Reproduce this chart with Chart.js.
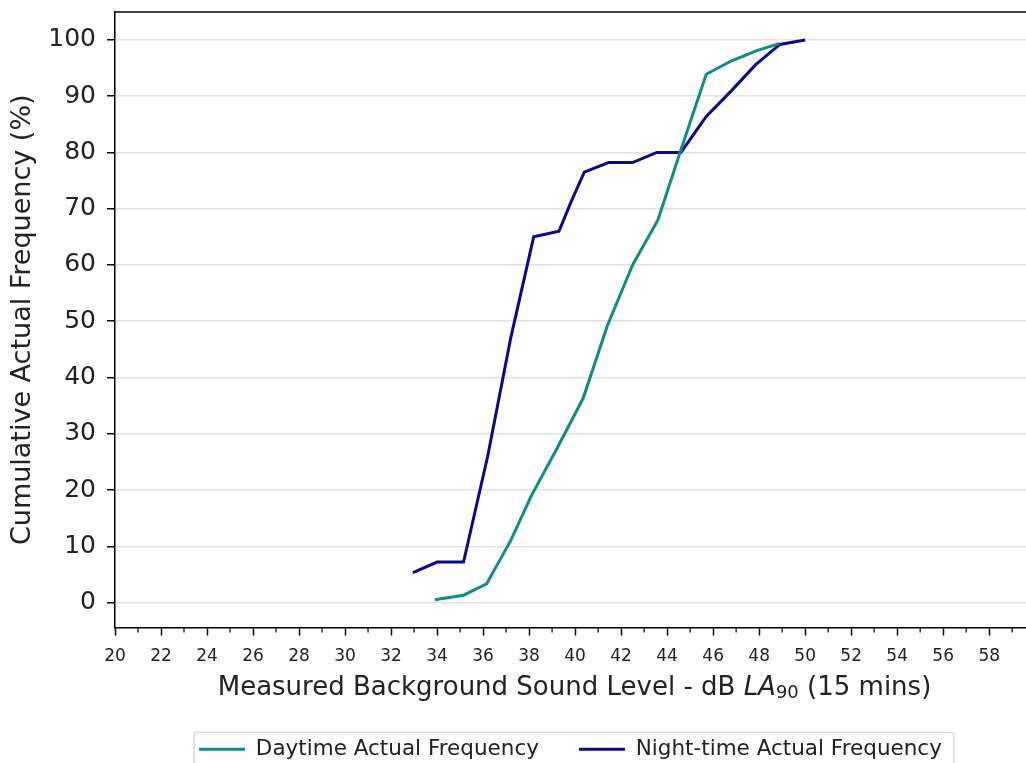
<!DOCTYPE html>
<html>
<head>
<meta charset="utf-8">
<script src="https://cdn.jsdelivr.net/npm/chart.js@4.4.1/dist/chart.umd.min.js"></script>
<style>
    html, body { margin: 0; padding: 0; background: #fff; }
    #wrap { width: 1026px; height: 763px; position: relative; overflow: hidden; }
</style>
</head>
<body>
<div id="wrap"><canvas id="chart"></canvas></div>
<script>
// Cumulative frequency readings (dB LA90, %)
const dayLevels = [33.9, 35.15, 36.15, 37.2, 38.1, 39.2, 40.35, 41.4, 42.5, 43.6, 44.6, 45.7, 46.8, 47.9, 48.9];
const dayCumulative = [0.5, 1.3, 3.3, 11, 19, 27.3, 36.3, 49.2, 60, 68, 80.5, 93.9, 96.3, 98.1, 99.4];
const nightLevels = [32.95, 34.0, 35.15, 36.2, 37.2, 38.2, 39.3, 39.8, 40.4, 41.45, 42.5, 43.55, 44.6, 45.7, 46.8, 47.85, 48.9, 50.0];
const nightCumulative = [5.3, 7.2, 7.2, 26, 47, 65, 66, 71, 76.5, 78.2, 78.2, 80, 80, 86.4, 91, 95.6, 99.2, 100];

const yTickValues = [0, 10, 20, 30, 40, 50, 60, 70, 80, 90, 100];
const xTickValues = [20, 22, 24, 26, 28, 30, 32, 34, 36, 38, 40, 42, 44, 46, 48, 50, 52, 54, 56, 58];
const seriesNames = ['Daytime Actual Frequency', 'Night-time Actual Frequency'];

const FONT = "'DejaVu Sans', sans-serif";

function toPoints(xs, ys) {
    return xs.map((x, i) => ({ x: x, y: ys[i] }));
}

// top spine, minor x ticks, x title with italic/subscript, legend frame
const decorations = {
    id: 'decorations',
    afterDraw(chart) {
        const ctx = chart.ctx;
        const area = chart.chartArea;
        const xScale = chart.scales.x;

        ctx.save();
        ctx.strokeStyle = '#000';
        ctx.lineWidth = 1.5;
        ctx.beginPath();
        ctx.moveTo(area.left, area.top);
        ctx.lineTo(area.right, area.top);
        ctx.stroke();

        ctx.lineWidth = 1.2;
        for (let v = 21; v < xScale.max; v += 2) {
            const px = xScale.getPixelForValue(v);
            ctx.beginPath();
            ctx.moveTo(px, area.bottom);
            ctx.lineTo(px, area.bottom + 5);
            ctx.stroke();
        }

        // x axis title
        const parts = [
            { text: 'Measured Background Sound Level - dB ', font: '26px ' + FONT, dy: 0 },
            { text: 'LA', font: 'italic 26px ' + FONT, dy: 0 },
            { text: '90', font: '18px ' + FONT, dy: 5 },
            { text: ' (15 mins)', font: '26px ' + FONT, dy: 0 }
        ];
        let total = 0;
        parts.forEach(p => { ctx.font = p.font; p.w = ctx.measureText(p.text).width; total += p.w; });
        let tx = (area.left + area.right) / 2 + 4 - total / 2;
        const ty = 688;
        ctx.fillStyle = '#222';
        ctx.textBaseline = 'middle';
        ctx.textAlign = 'left';
        parts.forEach(p => {
            ctx.font = p.font;
            ctx.fillText(p.text, tx, ty + p.dy);
            tx += p.w;
        });

        // legend frame
        const boxes = chart.legend.legendHitBoxes;
        if (boxes && boxes.length) {
            const last = boxes[boxes.length - 1];
            const l = boxes[0].left - 5;
            const r = last.left + last.width + 12;
            const t = boxes[0].top + boxes[0].height / 2 - 17;
            ctx.strokeStyle = '#cfcfcf';
            ctx.lineWidth = 1.2;
            ctx.beginPath();
            ctx.roundRect(l, t, r - l, 60, 3);
            ctx.stroke();
        }
        ctx.restore();
    }
};

document.addEventListener('DOMContentLoaded', () => {
    const ctx = document.getElementById('chart').getContext('2d');
    new Chart(ctx, {
        type: 'scatter',
        data: {
            datasets: [{
                label: seriesNames[0],
                data: toPoints(dayLevels, dayCumulative),
                showLine: true,
                borderColor: '#138a84',
                backgroundColor: '#138a84',
                borderWidth: 3,
                pointRadius: 0,
                tension: 0
            }, {
                label: seriesNames[1],
                data: toPoints(nightLevels, nightCumulative),
                showLine: true,
                borderColor: '#0a0a85',
                backgroundColor: '#0a0a85',
                borderWidth: 3,
                pointRadius: 0,
                tension: 0
            }]
        },
        options: {
            responsive: true,
            maintainAspectRatio: false,
            animation: false,
            layout: { padding: { left: 0, right: 0, top: 12, bottom: -7 } },
            plugins: {
                tooltip: { enabled: false },
                legend: {
                    position: 'bottom',
                    fullSize: false,
                    labels: {
                        usePointStyle: true,
                        pointStyle: 'line',
                        pointStyleWidth: 46,
                        color: '#222',
                        padding: 40,
                        font: { family: FONT, size: 21.5 }
                    }
                }
            },
            scales: {
                x: {
                    type: 'linear',
                    min: 20,
                    max: 59.6,
                    afterBuildTicks: axis => {
                        axis.ticks = xTickValues.map(v => ({ value: v }));
                    },
                    afterFit: scale => {
                        scale.height = 71;
                        scale.paddingLeft = 0;
                        scale.paddingRight = 0;
                    },
                    ticks: {
                        autoSkip: false,
                        maxRotation: 0,
                        color: '#222',
                        padding: 11,
                        font: { family: FONT, size: 17 }
                    },
                    grid: {
                        drawOnChartArea: false,
                        drawTicks: true,
                        tickLength: 8,
                        tickColor: '#000',
                        tickWidth: 1.5
                    },
                    border: { color: '#000', width: 1.5 }
                },
                y: {
                    min: -4.44,
                    max: 104.97,
                    afterBuildTicks: axis => {
                        axis.ticks = yTickValues.map(v => ({ value: v }));
                    },
                    afterFit: scale => {
                        scale.width = 115;
                        scale.paddingTop = 0;
                        scale.paddingBottom = 0;
                    },
                    ticks: {
                        color: '#222',
                        padding: 11,
                        font: { family: FONT, size: 25 }
                    },
                    grid: {
                        color: '#e2e2e2',
                        lineWidth: 1.5,
                        drawTicks: true,
                        tickLength: 8,
                        tickColor: '#000',
                        tickWidth: 1.5
                    },
                    border: { color: '#000', width: 1.5 },
                    title: {
                        display: true,
                        text: 'Cumulative Actual Frequency (%)',
                        color: '#222',
                        font: { family: FONT, size: 27 },
                        padding: { top: 7, bottom: 4 }
                    }
                }
            }
        },
        plugins: [decorations]
    });
});
</script>
</body>
</html>
